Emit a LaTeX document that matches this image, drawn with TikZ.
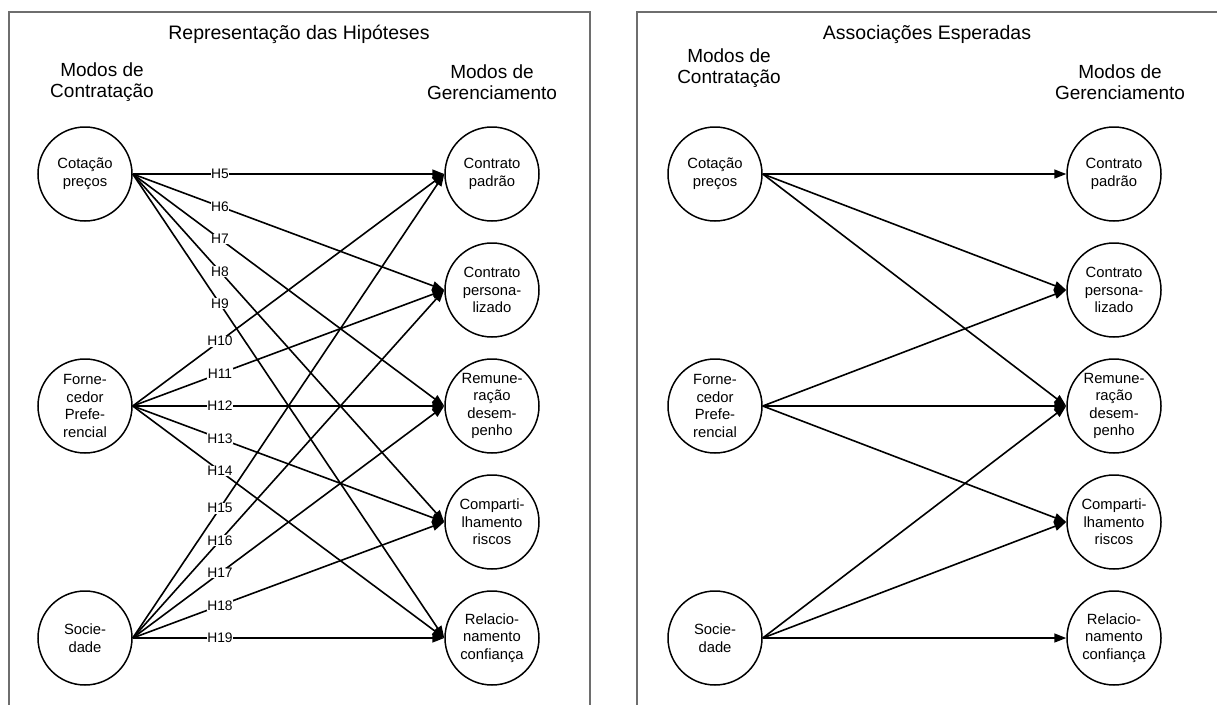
\documentclass[tikz,border=0pt]{standalone}
\usepackage{fontspec}
\setmainfont{Liberation Sans}
\usetikzlibrary{arrows.meta}
\definecolor{framegray}{RGB}{110,110,110}
\begin{document}
\begin{tikzpicture}[x=1pt,y=-1pt,
  circ/.style={circle,draw,line width=1.5pt,minimum size=94pt,inner sep=0pt,align=center,font=\fontsize{14.8}{17.5}\selectfont},
  hdr/.style={align=center,font=\fontsize{19}{20.5}\selectfont,inner sep=0pt},
  ttl/.style={font=\fontsize{19.5}{22}\selectfont,inner sep=0pt,anchor=base},
  conn/.style={line width=1.6pt,-{Triangle[length=12pt,width=9pt]}},
  hl/.style={fill=white,inner sep=0.6pt,font=\fontsize{13.8}{15}\selectfont,pos=0.28},
  framebox/.style={draw=framegray,line width=1.8pt}
]
\useasboundingbox (0,0) rectangle (1217,704);
\begin{scope}
  \clip (0,0) rectangle (1217,704);
  \draw[framebox] (9,12) rectangle (590,730);
  \draw[framebox] (637,12) rectangle (1240,730);
\end{scope}

% ---------- left panel ----------
\node[ttl] (t1) at (299,39) {Representação das Hipóteses};
\node[hdr] (h1) at (102,82) {Modos de\\Contratação};
\node[hdr] (h2) at (492,82) {Modos de\\Gerenciamento};

\node[circ] (a1) at (85,174) {Cotação\\preços};
\node[circ] (a2) at (85,406) {Forne-\\cedor\\Prefe-\\rencial};
\node[circ] (a3) at (85,638) {Socie-\\dade};
\node[circ] (b1) at (492,174) {Contrato\\padrão};
\node[circ] (b2) at (492,290) {Contrato\\persona-\\lizado};
\node[circ] (b3) at (492,406) {Remune-\\ração\\desem-\\penho};
\node[circ] (b4) at (492,522) {Comparti-\\lhamento\\riscos};
\node[circ] (b5) at (492,638) {Relacio-\\namento\\confiança};

\foreach \s/\t in {a1/b1,a1/b2,a1/b3,a1/b4,a1/b5,
                   a2/b1,a2/b2,a2/b3,a2/b4,a2/b5,
                   a3/b1,a3/b2,a3/b3,a3/b4,a3/b5}
  \draw[conn] (\s.east) -- (\t.west);

\path (a1.east) -- node[hl] (l5) {H5} (b1.west);
\path (a1.east) -- node[hl] (l6) {H6} (b2.west);
\path (a1.east) -- node[hl] (l7) {H7} (b3.west);
\path (a1.east) -- node[hl] (l8) {H8} (b4.west);
\path (a1.east) -- node[hl] (l9) {H9} (b5.west);
\path (a2.east) -- node[hl] (l10) {H10} (b1.west);
\path (a2.east) -- node[hl] (l11) {H11} (b2.west);
\path (a2.east) -- node[hl] (l12) {H12} (b3.west);
\path (a2.east) -- node[hl] (l13) {H13} (b4.west);
\path (a2.east) -- node[hl] (l14) {H14} (b5.west);
\path (a3.east) -- node[hl] (l15) {H15} (b1.west);
\path (a3.east) -- node[hl] (l16) {H16} (b2.west);
\path (a3.east) -- node[hl] (l17) {H17} (b3.west);
\path (a3.east) -- node[hl] (l18) {H18} (b4.west);
\path (a3.east) -- node[hl] (l19) {H19} (b5.west);

% ---------- right panel ----------
\node[ttl] (t2) at (927,39) {Associações Esperadas};
\node[hdr] (h3) at (729,68) {Modos de\\Contratação};
\node[hdr] (h4) at (1120,82) {Modos de\\Gerenciamento};

\node[circ] (c1) at (715,174) {Cotação\\preços};
\node[circ] (c2) at (715,406) {Forne-\\cedor\\Prefe-\\rencial};
\node[circ] (c3) at (715,638) {Socie-\\dade};
\node[circ] (d1) at (1114,174) {Contrato\\padrão};
\node[circ] (d2) at (1114,290) {Contrato\\persona-\\lizado};
\node[circ] (d3) at (1114,406) {Remune-\\ração\\desem-\\penho};
\node[circ] (d4) at (1114,522) {Comparti-\\lhamento\\riscos};
\node[circ] (d5) at (1114,638) {Relacio-\\namento\\confiança};

\foreach \s/\t in {c1/d1,c1/d2,c1/d3,
                   c2/d2,c2/d3,c2/d4,
                   c3/d3,c3/d4,c3/d5}
  \draw[conn] (\s.east) -- (\t.west);
\end{tikzpicture}
\end{document}
